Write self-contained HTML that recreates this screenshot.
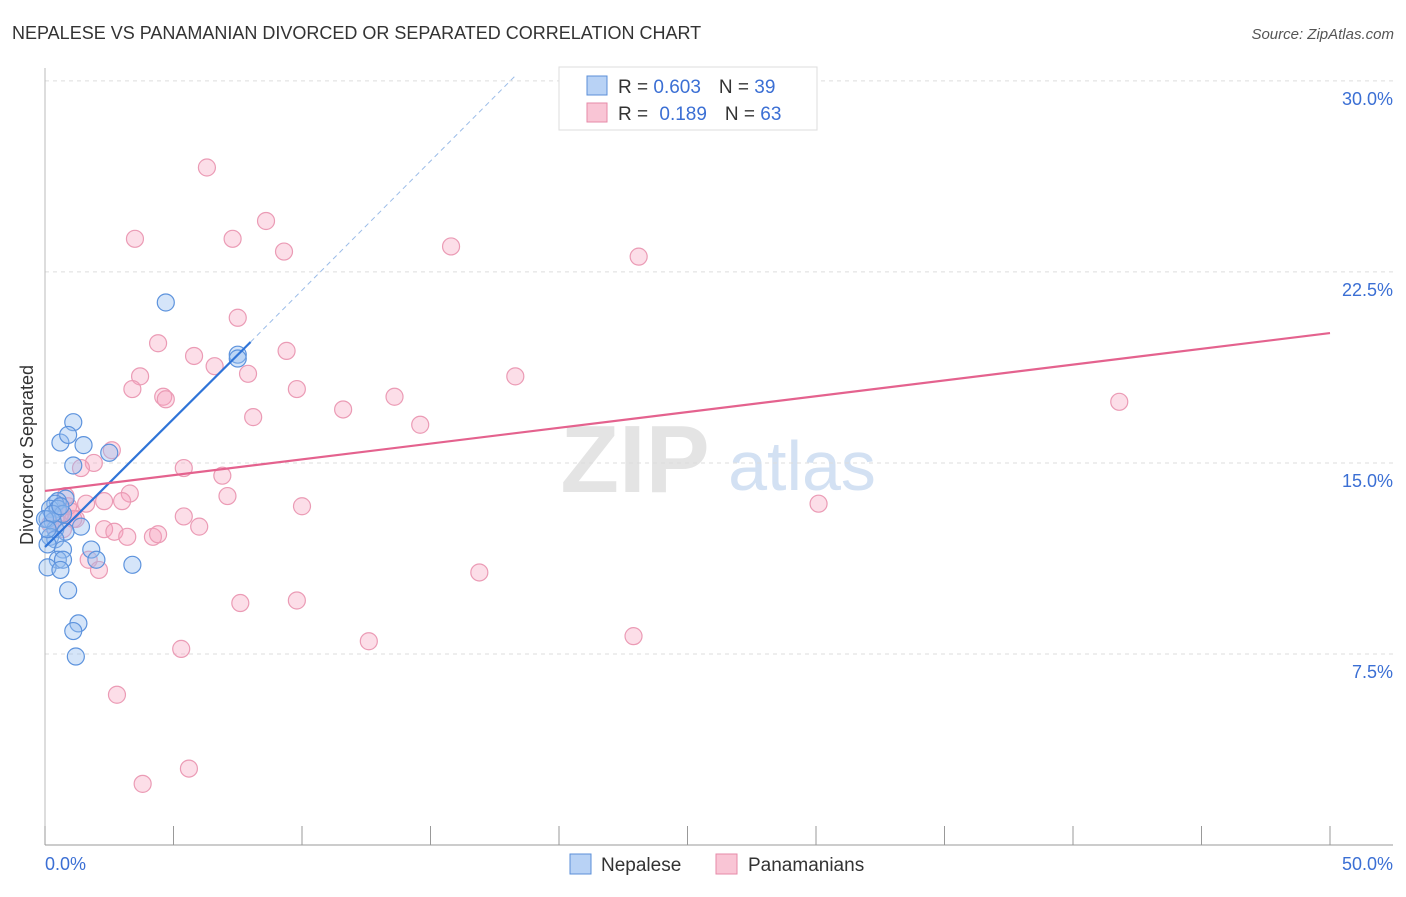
<!DOCTYPE html>
<html><head><meta charset="utf-8"><style>
body{margin:0;background:#fff;font-family:"Liberation Sans",sans-serif;}
svg text{font-family:"Liberation Sans",sans-serif;}
</style></head><body>
<svg id="c" width="1406" height="892" xmlns="http://www.w3.org/2000/svg">
<text x="12" y="39" font-size="18" fill="#333">NEPALESE VS PANAMANIAN DIVORCED OR SEPARATED CORRELATION CHART</text>
<text x="1394" y="39" font-size="15" fill="#555" font-style="italic" text-anchor="end">Source: ZipAtlas.com</text>
<text transform="translate(33,455) rotate(-90)" font-size="18" fill="#333" text-anchor="middle">Divorced or Separated</text>
<g><text x="635" y="492" font-size="96" fill="#e4e4e4" text-anchor="middle" font-family="Liberation Serif" font-weight="bold">ZIP</text><text x="802" y="490" font-size="70" fill="#d3e1f3" text-anchor="middle">atlas</text></g>
<g id="grid"></g><g id="axes"></g><g id="pts"></g><g id="lines"></g>
<g>
<rect x="559" y="67" width="258" height="63" fill="#fff" stroke="#ddd"/>
<rect x="587" y="76" width="20" height="19" fill="#b8d2f5" stroke="#5b8fd8"/>
<rect x="587" y="103" width="20" height="19" fill="#f9c5d5" stroke="#e68aa8"/>
<text x="618" y="93" font-size="19" fill="#333">R = <tspan fill="#3b6fd4">0.603</tspan><tspan dx="18">N = </tspan><tspan fill="#3b6fd4">39</tspan></text>
<text x="618" y="120" font-size="19" fill="#333">R = <tspan dx="6" fill="#3b6fd4">0.189</tspan><tspan dx="18">N = </tspan><tspan fill="#3b6fd4">63</tspan></text>
</g>
<g>
<rect x="570" y="854" width="21" height="20" fill="#b8d2f5" stroke="#5b8fd8"/>
<text x="601" y="871" font-size="19" fill="#333">Nepalese</text>
<rect x="716" y="854" width="21" height="20" fill="#f9c5d5" stroke="#e68aa8"/>
<text x="748" y="871" font-size="19" fill="#333">Panamanians</text>
</g>
</svg>
<script>
const yTicks=[7.5,15,22.5,30];
const yTickLabels=["7.5%","15.0%","22.5%","30.0%"];
const xTickLabels=["0.0%","50.0%"];
const blueX=[4.7,7.5,7.5,1.1,0.6,0.9,1.5,2.5,1.1,0.8,0.5,0.4,0.2,0.5,0.7,0.1,0.3,0.4,1.4,0.8,0.2,0.4,0.1,0.7,1.8,0.5,0.7,2.0,0.1,0.6,3.4,0.9,1.3,1.1,1.2,0.0,0.3,0.6,0.1];
const blueY=[21.3,19.25,19.1,16.6,15.8,16.1,15.7,15.4,14.9,13.6,13.5,13.4,13.2,13.2,13.0,12.8,12.7,12.4,12.5,12.3,12.1,12.0,11.8,11.6,11.6,11.2,11.2,11.2,10.9,10.8,11.0,10.0,8.7,8.4,7.4,12.8,13.0,13.3,12.4];
const pinkX=[6.3,3.5,7.3,8.6,9.3,15.8,23.1,7.5,4.4,5.8,9.4,6.6,3.7,7.9,18.3,3.4,9.8,4.6,4.7,13.6,11.6,8.1,14.6,41.8,2.6,1.9,1.4,5.4,6.9,7.1,3.3,3.0,1.6,2.3,10.0,30.1,5.4,1.2,1.0,0.9,6.0,2.3,2.7,3.2,4.2,4.4,1.7,2.1,16.9,7.6,9.8,22.9,12.6,5.3,2.8,5.6,3.8,0.4,0.6,0.2,0.8,1.1,0.7];
const pinkY=[26.6,23.8,23.8,24.5,23.3,23.5,23.1,20.7,19.7,19.2,19.4,18.8,18.4,18.5,18.4,17.9,17.9,17.6,17.5,17.6,17.1,16.8,16.5,17.4,15.5,15.0,14.8,14.8,14.5,13.7,13.8,13.5,13.4,13.5,13.3,13.4,12.9,12.8,13.1,13.3,12.5,12.4,12.3,12.1,12.1,12.2,11.2,10.8,10.7,9.5,9.6,8.2,8.0,7.7,5.9,3.0,2.4,12.8,13.0,12.6,13.7,12.8,12.4];
const blueLine=[[0,11.7],[8,19.75]], blueDash=[[8,19.75],[18.3,30.2]];
const pinkLine=[[0,13.9],[50,20.1]];
const X=v=>45+v*25.7, Y=v=>845-v*25.47;
const NS="http://www.w3.org/2000/svg";
function mk(t,a,p){const e=document.createElementNS(NS,t);for(const k in a)e.setAttribute(k,a[k]);document.getElementById(p).appendChild(e);return e;}
yTicks.forEach((v,i)=>{
 const l=mk('line',{x1:45,x2:1393,y1:Y(v),y2:Y(v),stroke:'#ddd','stroke-dasharray':'4,4'},'grid');
 
 
 const t=mk('text',{x:1393,y:Y(v)+24,'font-size':18,fill:'#3b6fd4','text-anchor':'end'},'grid');t.textContent=yTickLabels[i];
 
 
});
const ax=mk('line',{x1:45,x2:1393,y1:845,y2:845,stroke:'#999'},'axes');


const ay=mk('line',{x1:45,x2:45,y1:68,y2:845,stroke:'#bbb'},'axes');


for(let i=0;i<=10;i++){const tk=mk('line',{x1:X(i*5),x2:X(i*5),y1:826,y2:845,stroke:'#999'},'axes');
 
 }
[[0,'start'],[50,'end']].forEach((d,i)=>{const t=mk('text',{x:i?1393:45,y:870,'font-size':18,fill:'#3b6fd4','text-anchor':d[1]},'axes');t.textContent=xTickLabels[i];
 
 });
pinkX.forEach((x,i)=>{const c=mk('circle',{cx:X(x),cy:Y(pinkY[i]),r:8.5,fill:'rgba(245,160,188,0.35)',stroke:'#eb9bb5','stroke-width':1.2},'pts');
 
 });
blueX.forEach((x,i)=>{const c=mk('circle',{cx:X(x),cy:Y(blueY[i]),r:8.5,fill:'rgba(150,190,240,0.4)',stroke:'#5d93dd','stroke-width':1.2},'pts');
 
 });
const bl=mk('line',{x1:X(blueLine[0][0]),y1:Y(blueLine[0][1]),x2:X(blueLine[1][0]),y2:Y(blueLine[1][1]),stroke:'#2f74d8','stroke-width':2.2},'lines');


const bd=mk('line',{x1:X(blueDash[0][0]),y1:Y(blueDash[0][1]),x2:X(blueDash[1][0]),y2:Y(blueDash[1][1]),stroke:'#9bbce8','stroke-width':1,'stroke-dasharray':'5,4'},'lines');


const pl=mk('line',{x1:X(pinkLine[0][0]),y1:Y(pinkLine[0][1]),x2:X(pinkLine[1][0]),y2:Y(pinkLine[1][1]),stroke:'#e4628e','stroke-width':2.2},'lines');


</script>
</body></html>
